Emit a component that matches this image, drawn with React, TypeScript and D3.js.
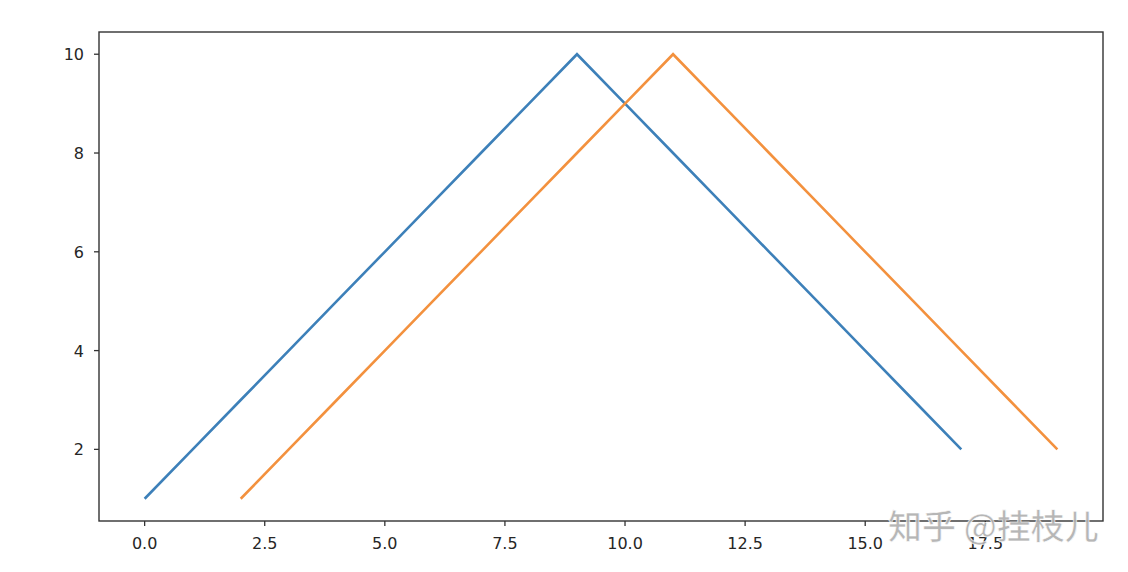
import React from "react";
import * as d3 from "d3";

const seriesAX = [0, 1, 2, 3, 4, 5, 6, 7, 8, 9, 10, 11, 12, 13, 14, 15, 16, 17];
const seriesAY = [1, 2, 3, 4, 5, 6, 7, 8, 9, 10, 9, 8, 7, 6, 5, 4, 3, 2];
const seriesBX = [2, 3, 4, 5, 6, 7, 8, 9, 10, 11, 12, 13, 14, 15, 16, 17, 18, 19];
const seriesBY = [1, 2, 3, 4, 5, 6, 7, 8, 9, 10, 9, 8, 7, 6, 5, 4, 3, 2];
const xTicks = [0, 2.5, 5, 7.5, 10, 12.5, 15, 17.5];
const yTicks = [2, 4, 6, 8, 10];
const seriesColors = ["#3d80b9", "#f3913e"];
const watermark = "知乎 @挂枝儿";

export default function App() {
  const W = 1128, H = 572;
  const left = 99, right = 1103, top = 32, bottom = 521;
  const x = d3.scaleLinear().domain([-0.95, 19.95]).range([left, right]);
  const y = d3.scaleLinear().domain([0.55, 10.45]).range([bottom, top]);
  const line = d3.line<[number, number]>().x(d => x(d[0])).y(d => y(d[1]));
  const a = seriesAX.map((v, i) => [v, seriesAY[i]] as [number, number]);
  const b = seriesBX.map((v, i) => [v, seriesBY[i]] as [number, number]);
  const font = "DejaVu Sans, sans-serif";
  const tc = "#262626";
  return (
    <svg width={W} height={H} style={{ position: "absolute", left: 0, top: 0, background: "#fff" }}>
      <rect x={0} y={0} width={W} height={H} fill="#fff" />
      <path d={line(a) || ""} fill="none" stroke={seriesColors[0]} strokeWidth={2.6} strokeLinejoin="miter" />
      <path d={line(b) || ""} fill="none" stroke={seriesColors[1]} strokeWidth={2.6} strokeLinejoin="miter" />
      <rect x={left} y={top} width={right - left} height={bottom - top} fill="none" stroke="#333" strokeWidth={1.4} />
      {xTicks.map(t => (
        <g key={"x" + t}>
          <line x1={x(t)} x2={x(t)} y1={bottom} y2={bottom + 5} stroke="#333" strokeWidth={1.3} />
          <text x={x(t)} y={bottom + 28} textAnchor="middle" fontFamily={font} fontSize={16} fill={tc}>{t.toFixed(1)}</text>
        </g>
      ))}
      {yTicks.map(t => (
        <g key={"y" + t}>
          <line x1={left - 5} x2={left} y1={y(t)} y2={y(t)} stroke="#333" strokeWidth={1.3} />
          <text x={left - 15} y={y(t) + 6} textAnchor="end" fontFamily={font} fontSize={16} fill={tc}>{t}</text>
        </g>
      ))}
      <text x={888} y={539} fontFamily="Noto Sans CJK SC, sans-serif" fontSize={34} fontWeight={500} fill="#b0b0b0" stroke="#ffffff" strokeWidth={0.6} opacity={0.92}>{watermark}</text>
    </svg>
  );
}
